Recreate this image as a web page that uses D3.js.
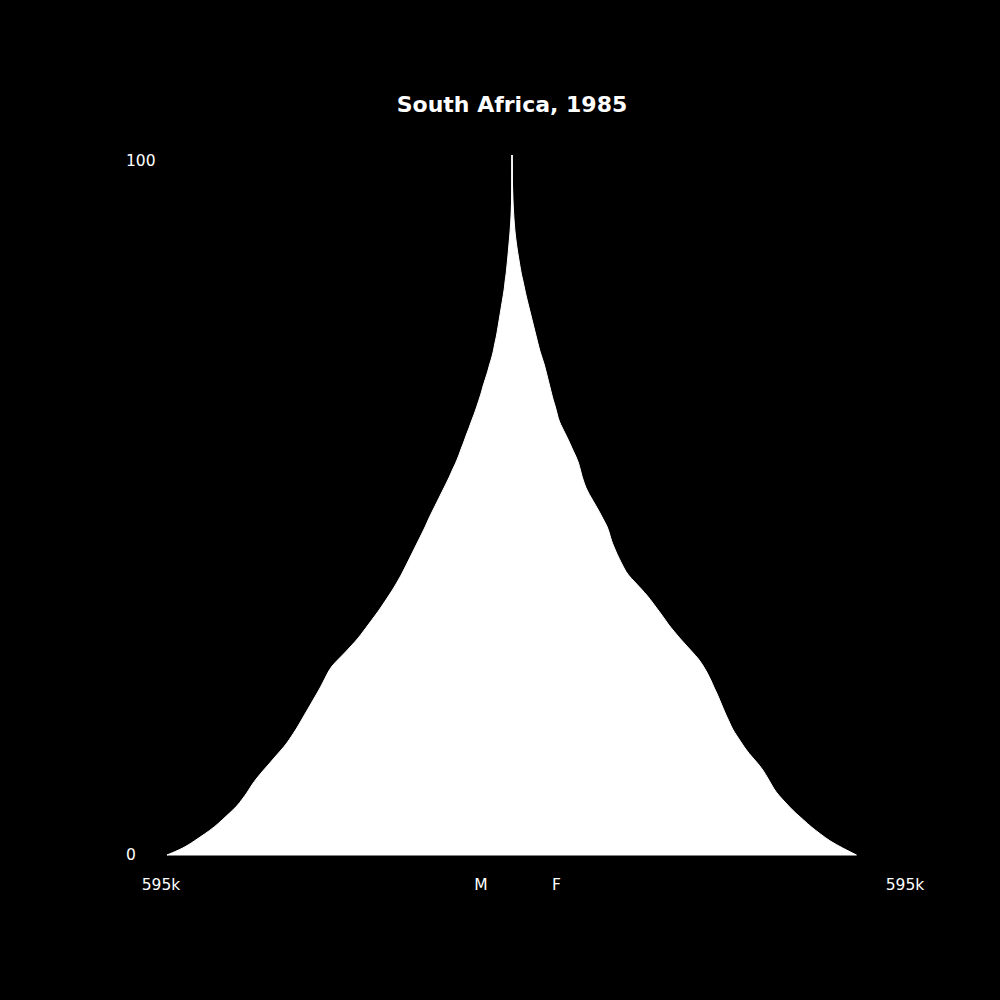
<!DOCTYPE html>
<html>
<head>
<meta charset="utf-8">
<script src="https://cdn.jsdelivr.net/npm/d3@7"></script>
<style>
  body { margin: 0; background: #000; }
  svg { display: block; }
  text { font-family: "DejaVu Sans", sans-serif; fill: #fff; }
</style>
</head>
<body>
<div class="chart"></div>
<script>
// leeftijden 0..100
var ages = d3.range(0, 101);

// aantal mannen per leeftijd (duizenden)
var male = [595, 566, 548, 530, 513, 500, 487, 474, 465, 456,
  449, 440, 430, 419, 409, 398, 388, 380, 372, 365,
  358, 351, 344, 337, 330, 324, 318, 311, 299, 287,
  276, 265, 256, 247, 238, 229, 221, 213, 205, 198,
  191, 185, 179, 173, 167, 161, 155, 149, 144, 138,
  132, 126, 120, 114, 108, 103, 97, 92, 88, 83,
  79, 74, 70, 65, 61, 57, 53, 50, 46, 42,
  39, 35, 32, 30, 27, 25, 23, 21, 19, 17,
  15, 13, 12, 10, 9, 7.6, 6.6, 5.5, 4.4, 3.4,
  2.6, 1.8, 1.3, 0.9, 0.6, 0.4, 0.3, 0.2, 0.1, 0.1, 0.05];

// aantal vrouwen per leeftijd (duizenden)
var female = [594, 570, 548, 532, 516, 503, 489, 477, 466, 455,
  448, 441, 434, 425, 414, 404, 396, 388, 380, 375,
  369, 364, 359, 354, 348, 343, 337, 330, 322, 311,
  300, 289, 279, 269, 261, 252, 243, 234, 223, 212,
  200, 193, 187, 181, 176, 171, 168, 164, 157, 151,
  144, 137, 130, 125, 121, 118, 115, 110, 104, 99,
  93, 87, 81, 78, 75, 71, 68, 65, 62, 59,
  56, 52, 48, 45, 42, 39, 36, 33, 30, 27,
  24, 21.5, 19, 16, 14, 12, 10, 8.2, 6.6, 5.2,
  4.2, 3.3, 2.6, 2.0, 1.5, 1.1, 0.8, 0.5, 0.3, 0.2, 0.1];

var maxValue = 595;
var title = "South Africa, 1985";
var yTicks = [0, 100];
var sexLabels = ["M", "F"];

var width = 1000;
var height = 1000;

var svg = d3.select(".chart").append("svg")
  .attr("width", width)
  .attr("height", height);

svg.append("rect")
  .attr("width", width)
  .attr("height", height)
  .attr("fill", "#000");

var center = 512;
var y = d3.scaleLinear().domain([0, 100]).range([855, 155]);
var xM = d3.scaleLinear().domain([0, maxValue]).range([center, 167]);
var xF = d3.scaleLinear().domain([0, maxValue]).range([center, 857]);

var dataM = ages.map((a, i) => ({ age: a, v: male[i] }));
var dataF = ages.map((a, i) => ({ age: a, v: female[i] }));

function areaFor(x) {
  return d3.area()
    .y(d => y(d.age))
    .x0(x(0))
    .x1(d => x(d.v))
    .curve(d3.curveBasis);
}

svg.append("path")
  .datum(dataM)
  .attr("d", areaFor(xM))
  .attr("fill", "#fff")
  .attr("stroke", "#fff")
  .attr("stroke-width", 1);

svg.append("path")
  .datum(dataF)
  .attr("d", areaFor(xF))
  .attr("fill", "#fff")
  .attr("stroke", "#fff")
  .attr("stroke-width", 1);

// titel
svg.append("text")
  .attr("x", center)
  .attr("y", 112)
  .attr("text-anchor", "middle")
  .style("font-size", "22px")
  .style("font-weight", "bold")
  .text(title);

// leeftijdslabels links
svg.selectAll(".ytick")
  .data(yTicks)
  .enter()
  .append("text")
  .attr("class", "ytick")
  .attr("x", 126)
  .attr("y", d => y(d) + (d == 100 ? 11 : 4.5))
  .style("font-size", "15.5px")
  .text(d => d);

// schaal onderaan
svg.append("text")
  .attr("x", xM(maxValue) - 6)
  .attr("y", 890)
  .attr("text-anchor", "middle")
  .style("font-size", "15.5px")
  .text(maxValue + "k");

svg.append("text")
  .attr("x", xF(maxValue) + 48)
  .attr("y", 890)
  .attr("text-anchor", "middle")
  .style("font-size", "15.5px")
  .text(maxValue + "k");

svg.selectAll(".sex")
  .data(sexLabels)
  .enter()
  .append("text")
  .attr("class", "sex")
  .attr("x", (d, i) => i == 0 ? 481 : 556.5)
  .attr("y", 890)
  .attr("text-anchor", "middle")
  .style("font-size", "15.5px")
  .text(d => d);
</script>
</body>
</html>
